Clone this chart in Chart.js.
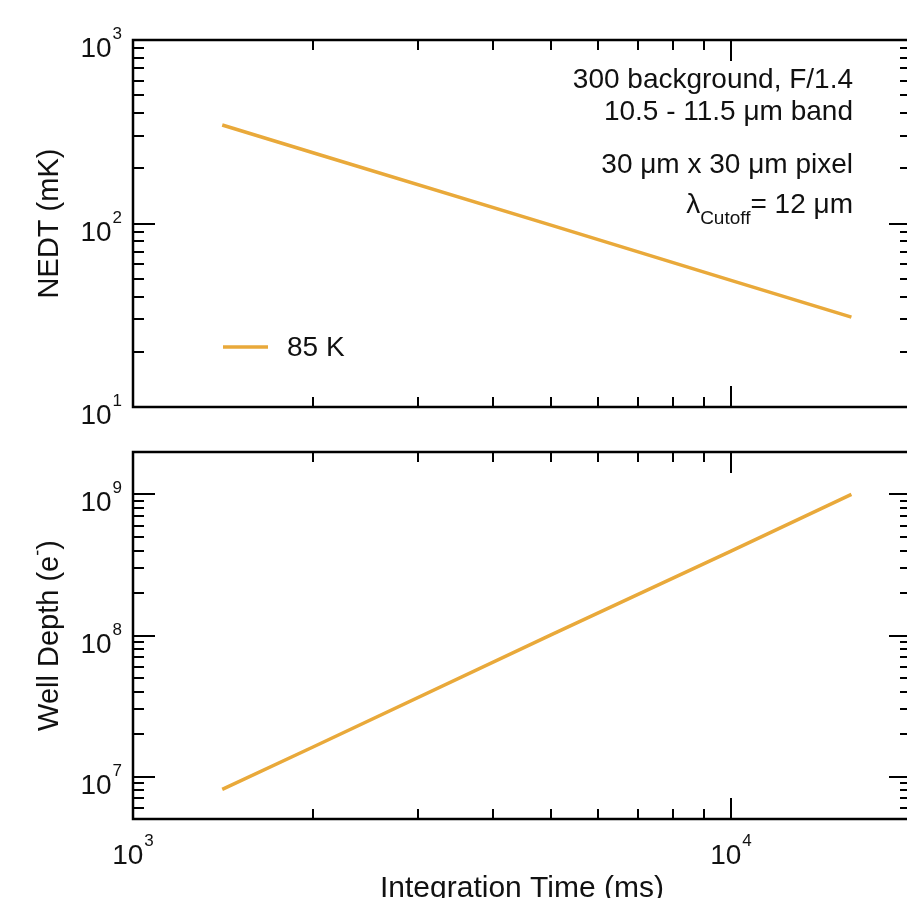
<!DOCTYPE html>
<html>
<head>
<meta charset="utf-8">
<title>NEDT and well depth vs integration time</title>
<script src="https://cdn.jsdelivr.net/npm/chart.js@4.4.1/dist/chart.umd.min.js"></script>
<style>
  html, body { margin: 0; padding: 0; background: #fff; overflow: hidden; }
  #wrap { position: relative; width: 907px; height: 898px; overflow: hidden; }
  canvas { position: absolute; left: 0; }
  #top-chart { top: 0; }
  #bottom-chart { top: 430px; }
</style>
</head>
<body>
<div id="wrap">
  <canvas id="top-chart" width="920" height="430"></canvas>
  <canvas id="bottom-chart" width="920" height="468"></canvas>
</div>
<script>
(function () {
  'use strict';

  // values (integration time in ms)
  const integrationTime = [1410, 2000, 5000, 10000, 15900];
  const nedt85K = [344, 243, 98, 49, 30.9];          // mK
  const wellDepth85K = [8.1e6, 1.62e7, 1.01e8, 3.96e8, 1.0e9]; // electrons
  const seriesLabel = '85 K';

  // tick labels are powers of ten
  const timeTickExps = [3, 4];
  const nedtTickExps = [1, 2, 3];
  const wellTickExps = [7, 8, 9];

  const notes = ['300 background, F/1.4', '10.5 - 11.5 \u03bcm band', '30 \u03bcm x 30 \u03bcm pixel'];

  const FONT = '"Liberation Sans", Arial, Helvetica, sans-serif';
  const LINE_COLOR = '#E9A93A';
  const font = (px) => px + 'px ' + FONT;

  // 1..9 x 10^n inside [min, max], for the inward tick marks
  function decadeTicks(min, max) {
    const out = [];
    for (let e = Math.floor(Math.log10(min)); e <= Math.ceil(Math.log10(max)); e++) {
      for (let m = 1; m <= 9; m++) {
        const v = m * Math.pow(10, e);
        if (v >= min * 0.999 && v <= max * 1.001) out.push({ v, major: m === 1 });
      }
    }
    return out;
  }

  // draw a row of text pieces (for super/subscripts); align: left|center|right
  function drawRuns(ctx, runs, x, y, align) {
    let total = 0;
    runs.forEach(r => { ctx.font = font(r.px); r.w = ctx.measureText(r.t).width; total += r.w + (r.gap || 0); });
    let cx = align === 'right' ? x - total : align === 'center' ? x - total / 2 : x;
    ctx.textAlign = 'left';
    ctx.textBaseline = 'alphabetic';
    runs.forEach(r => {
      ctx.font = font(r.px);
      ctx.fillText(r.t, cx, y + (r.dy || 0));
      cx += r.w + (r.gap || 0);
    });
  }

  const pow10 = (exp) => [{ t: '10', px: 28, gap: 1 }, { t: String(exp), px: 17, dy: -18 }];

  function panelFrame(cfg) {
    return {
      id: 'panelFrame',
      afterDraw(chart) {
        const { ctx, chartArea: a } = chart;
        const x = chart.scales.x, y = chart.scales.y;
        ctx.save();
        ctx.strokeStyle = '#000';
        ctx.fillStyle = '#111';

        ctx.lineWidth = 2;
        ctx.beginPath();
        decadeTicks(x.min, x.max).forEach(t => {
          const px = Math.round(x.getPixelForValue(t.v));
          const len = t.major ? 21 : 10;
          ctx.moveTo(px, a.bottom); ctx.lineTo(px, a.bottom - len);
          ctx.moveTo(px, a.top); ctx.lineTo(px, a.top + len);
        });
        decadeTicks(y.min, y.max).forEach(t => {
          const py = Math.round(y.getPixelForValue(t.v));
          const len = t.major ? 22 : 11;
          ctx.moveTo(a.left, py); ctx.lineTo(a.left + len, py);
          ctx.moveTo(a.right, py); ctx.lineTo(a.right - len, py);
        });
        ctx.stroke();

        ctx.lineWidth = 2.5;
        ctx.strokeRect(a.left, a.top, a.right - a.left, a.bottom - a.top);

        cfg.yExps.forEach(e => drawRuns(ctx, pow10(e), a.left - 11, y.getPixelForValue(Math.pow(10, e)) + 17, 'right'));
        if (cfg.xExps) {
          cfg.xExps.forEach(e => drawRuns(ctx, pow10(e), x.getPixelForValue(Math.pow(10, e)), a.bottom + 45, 'center'));
        }

        // rotated y title
        ctx.save();
        ctx.translate(58, (a.top + a.bottom) / 2);
        ctx.rotate(-Math.PI / 2);
        drawRuns(ctx, cfg.yTitle, 0, 0, 'center');
        ctx.restore();

        if (cfg.xTitle) drawRuns(ctx, [{ t: cfg.xTitle, px: 30 }], (a.left + a.right) / 2, cfg.xTitleY, 'center');
        if (cfg.extra) cfg.extra(ctx, chart);
        ctx.restore();
      }
    };
  }

  function makeChart(canvas, values, yMin, yMax, padding, frameCfg) {
    return new Chart(canvas, {
      type: 'line',
      data: {
        datasets: [{
          label: seriesLabel,
          data: integrationTime.map((t, i) => ({ x: t, y: values[i] })),
          borderColor: LINE_COLOR,
          borderWidth: 3.5,
          pointRadius: 0,
          tension: 0,
        }],
      },
      options: {
        responsive: false,
        animation: false,
        events: [],
        layout: { padding },
        plugins: { legend: { display: false }, tooltip: { enabled: false } },
        scales: {
          x: { type: 'logarithmic', min: 1000, max: 20000, display: false },
          y: { type: 'logarithmic', min: yMin, max: yMax, display: false },
        },
      },
      plugins: [panelFrame(frameCfg)],
    });
  }

  makeChart(document.getElementById('top-chart'), nedt85K, 10, 1000,
    { left: 133, top: 40, right: 9, bottom: 23 },
    {
      yExps: nedtTickExps,
      yTitle: [{ t: 'NEDT (mK)', px: 29 }],
      extra(ctx) {
        ctx.fillStyle = '#111';
        drawRuns(ctx, [{ t: notes[0], px: 28 }], 853, 88, 'right');
        drawRuns(ctx, [{ t: notes[1], px: 28 }], 853, 120, 'right');
        drawRuns(ctx, [{ t: notes[2], px: 28 }], 853, 173, 'right');
        drawRuns(ctx, [
          { t: '\u03bb', px: 28 },
          { t: 'Cutoff', px: 19, dy: 11 },
          { t: '= 12 \u03bcm', px: 28 },
        ], 853, 213, 'right');
        // legend
        ctx.strokeStyle = LINE_COLOR;
        ctx.lineWidth = 3.5;
        ctx.beginPath();
        ctx.moveTo(223, 347); ctx.lineTo(268, 347);
        ctx.stroke();
        drawRuns(ctx, [{ t: seriesLabel, px: 28 }], 287, 356, 'left');
      },
    });

  makeChart(document.getElementById('bottom-chart'), wellDepth85K, 5e6, 2e9,
    { left: 133, top: 22, right: 9, bottom: 79 },
    {
      yExps: wellTickExps,
      xExps: timeTickExps,
      yTitle: [{ t: 'Well Depth (e', px: 29 }, { t: '-', px: 18, dy: -15 }, { t: ')', px: 29 }],
      xTitle: 'Integration Time (ms)',
      xTitleY: 467,
    });
})();
</script>
</body>
</html>
